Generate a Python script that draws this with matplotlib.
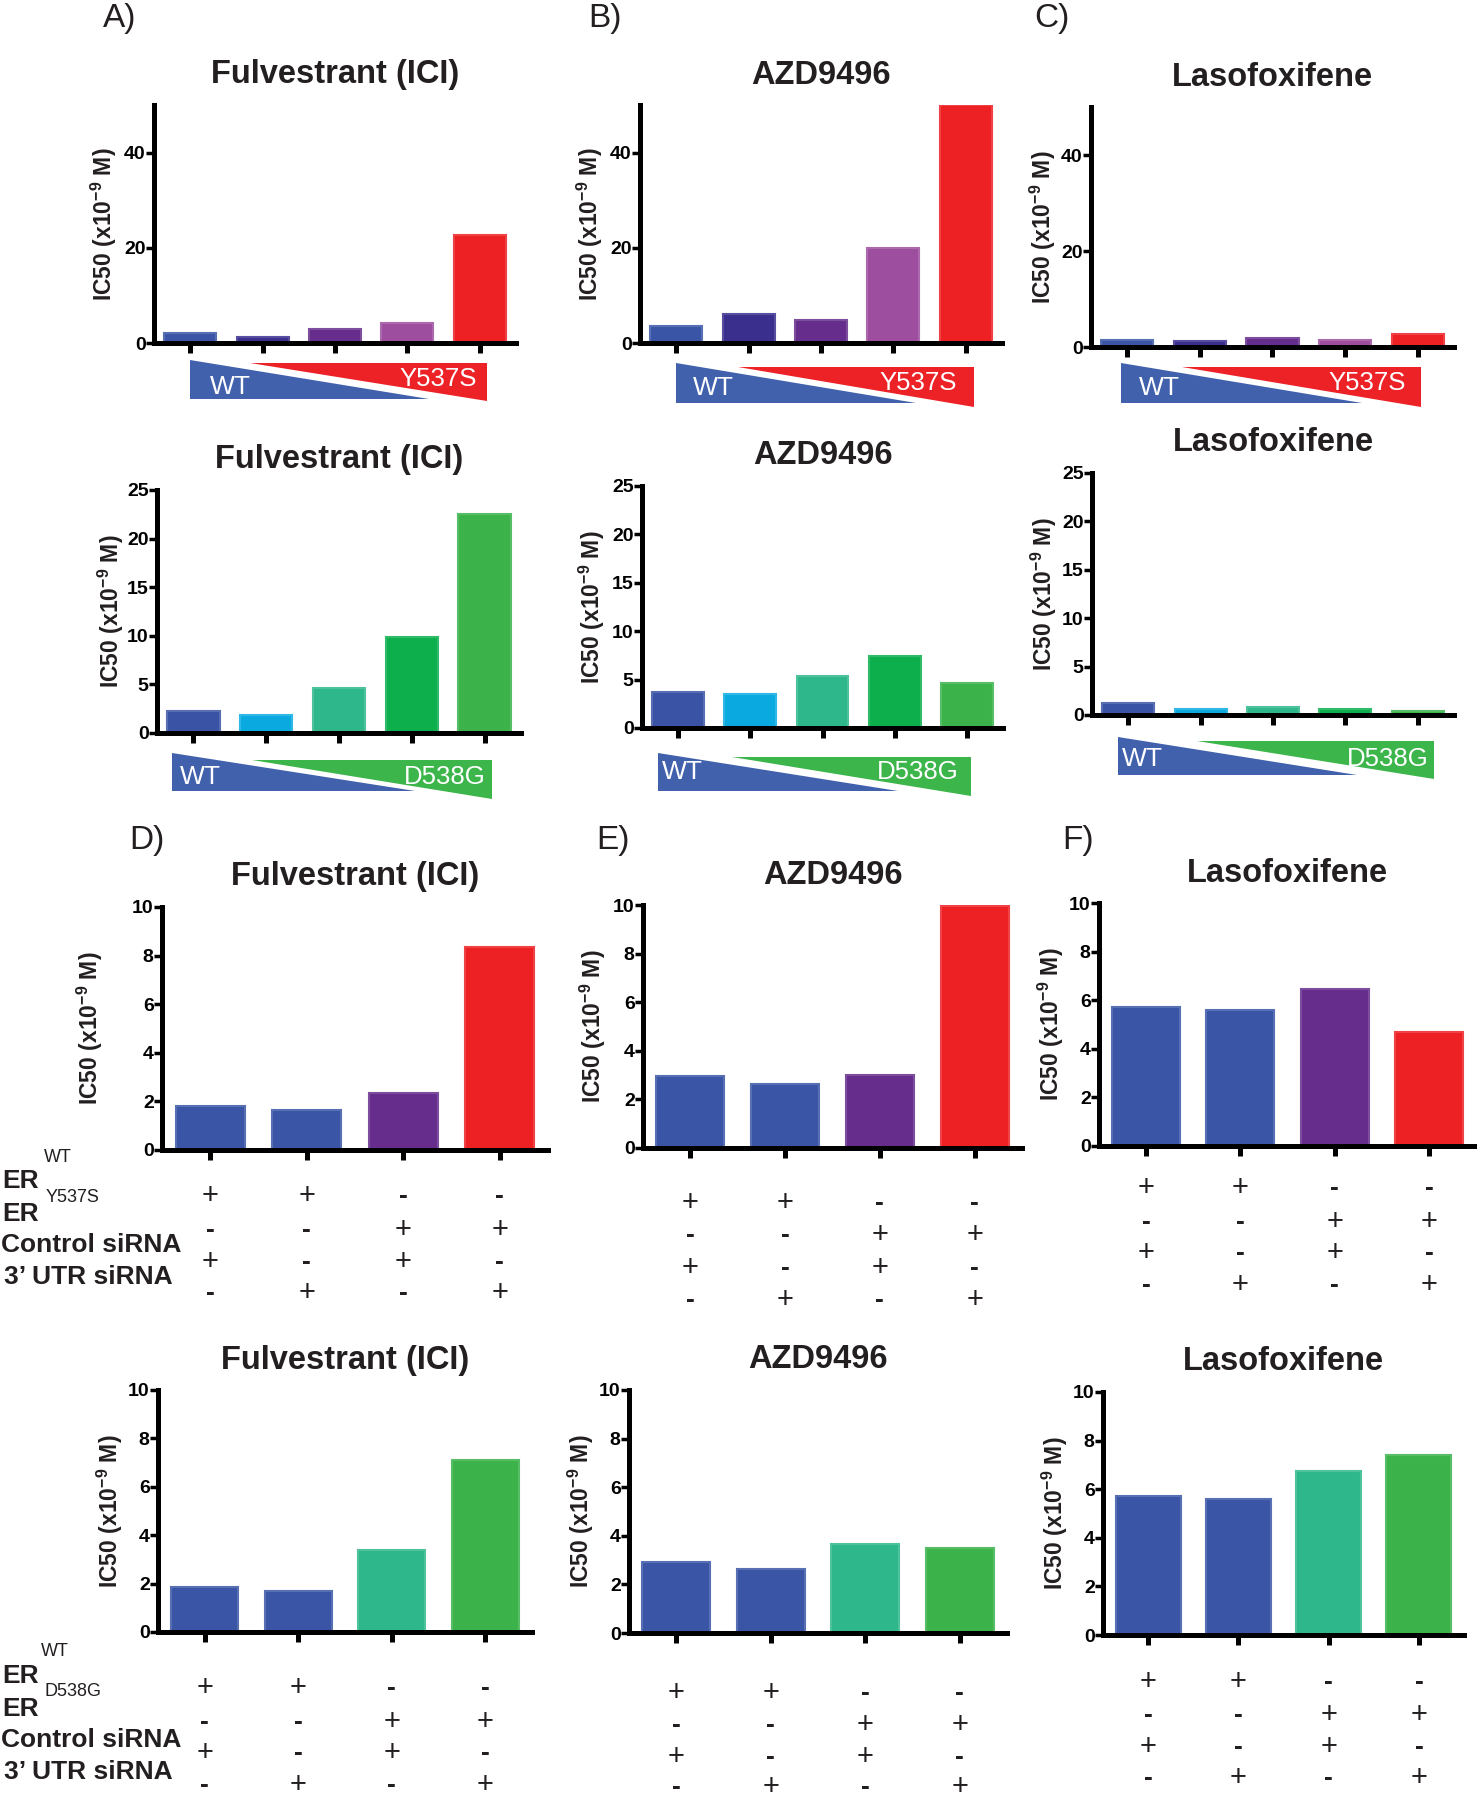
import matplotlib.pyplot as plt
import matplotlib.transforms as mtransforms
from matplotlib.patches import Polygon
from matplotlib.colors import to_rgb

plt.rcParams['font.family'] = ['Liberation Sans', 'DejaVu Sans']
plt.rcParams['mathtext.fontset'] = 'custom'
plt.rcParams['mathtext.rm'] = 'Liberation Sans:bold'
plt.rcParams['mathtext.default'] = 'rm'
plt.rcParams['text.color'] = '#231F20'

# ---- data (IC50, x10^-9 M) ----
ici_y537s = [2.2, 1.3, 2.9, 4.2, 22.6]
azd_y537s = [3.6, 6.1, 4.8, 20.0, 50.0]
laso_y537s = [1.4, 1.2, 1.8, 1.4, 2.8]

ici_d538g = [2.3, 1.9, 4.6, 9.9, 22.5]
azd_d538g = [3.75, 3.5, 5.4, 7.4, 4.6]
laso_d538g = [1.2, 0.6, 0.8, 0.6, 0.4]

ici_sirna_y537s = [1.81, 1.65, 2.36, 8.37]
azd_sirna_y537s = [2.96, 2.65, 3.0, 9.97]
laso_sirna_y537s = [5.73, 5.6, 6.46, 4.69]

ici_sirna_d538g = [1.86, 1.7, 3.4, 7.1]
azd_sirna_d538g = [2.92, 2.63, 3.66, 3.5]
laso_sirna_d538g = [5.72, 5.58, 6.75, 7.4]

er_wt = ['+', '+', '-', '-']
er_mut = ['-', '-', '+', '+']
control_sirna = ['+', '-', '+', '-']
utr_sirna = ['-', '+', '-', '+']
sign_rows = [er_wt, er_mut, control_sirna, utr_sirna]

drugs = ['Fulvestrant (ICI)', 'AZD9496', 'Lasofoxifene']
row_labels = ['Control siRNA', '3\u2019 UTR siRNA']

# colours
y537s_colors = ['#3A55A5', '#3B2F8E', '#662D8D', '#9D4E9E', '#ED2024']
d538g_colors = ['#3A53A4', '#0AAAE0', '#2FB78C', '#0DAF4D', '#3BB34A']
sirna_y_colors = ['#3A55A5', '#3A55A5', '#662D8D', '#ED2024']
sirna_d_colors = ['#3A55A5', '#3A55A5', '#2FB78C', '#3BB34A']
wedge_blue, wedge_red, wedge_green = '#4161AD', '#EC2227', '#3CB54A'

# ---- layout ----
W, H = 1477, 1800
PX = 72 / 100  # points per pixel

fig = plt.figure(figsize=(W / 100, H / 100), dpi=100)


def add_ax(rect):
    l, t, r, b = rect
    return fig.add_axes([l / W, 1 - b / H, (r - l) / W, (b - t) / H])


def lighten(c, f=0.15):
    r, g, b = to_rgb(c)
    return (r + (1 - r) * f, g + (1 - g) * f, b + (1 - b) * f)


def bar_panel(rect, values, colors, title, ymax, ystep, ylab_px=48):
    ax = add_ax(rect)
    wpx = rect[2] - rect[0]
    x = list(range(len(values)))
    ax.bar(x, values, width=0.72, color=colors,
           edgecolor=[lighten(c) for c in colors], linewidth=1.5)
    ax.set_xlim(-0.5, len(values) - 0.5)
    ax.set_ylim(0, ymax)
    ax.set_yticks(range(0, ymax + 1, ystep))
    ax.set_xticks(x)
    ax.set_xticklabels([])
    for s in ['top', 'right']:
        ax.spines[s].set_visible(False)
    for s in ['left', 'bottom']:
        ax.spines[s].set_linewidth(3.6)
    ax.tick_params(axis='y', direction='out', length=6, width=2.5, pad=0,
                   labelsize=14)
    ax.tick_params(axis='x', direction='out', length=7, width=3.6)
    for lab in ax.get_yticklabels():
        lab.set_fontweight('bold')
    ax.text(-ylab_px / wpx, 0.5, 'IC50 (x10$^{-9}$ M)', rotation=90,
            transform=ax.transAxes, ha='center', va='center',
            fontsize=16.5, fontweight='bold')
    ax.annotate(title, xy=(0.5, 1), xycoords='axes fraction',
                xytext=(0, 30 * PX), textcoords='offset points',
                ha='center', va='center', fontsize=23.5, fontweight='bold')
    return ax


def wedge(ax, right_color, right_lab, geo):
    trans = mtransforms.blended_transform_factory(ax.transData, ax.transAxes)
    (bx0, bx1, bt, bb), (rx0, rx1, rt, rb), (wx, wy), (mx, my) = geo
    ax.add_patch(Polygon([(bx0, bt), (bx0, bb), (bx1, bb)], closed=True,
                         facecolor=wedge_blue, edgecolor='none',
                         transform=trans, clip_on=False))
    ax.add_patch(Polygon([(rx0, rt), (rx1, rt), (rx1, rb)], closed=True,
                         facecolor=right_color, edgecolor='none',
                         transform=trans, clip_on=False))
    ax.text(wx, wy, 'WT', color='white', fontsize=19, ha='center',
            va='center', transform=trans)
    ax.text(mx, my, right_lab, color='white', fontsize=18.5, ha='center',
            va='center', transform=trans)


def signs(ax, offsets):
    for row, off in zip(sign_rows, offsets):
        for i, s in enumerate(row):
            ax.annotate(s, xy=(i, 0), xycoords=('data', 'axes fraction'),
                        xytext=(0, -off * PX), textcoords='offset points',
                        ha='center', va='center',
                        fontsize=19 if s == '-' else 21,
                        fontweight='bold' if s == '-' else 'normal',
                        annotation_clip=False)


def ftext(x, y, s, **kw):
    fig.text(x / W, 1 - y / H, s, **kw)


# row 1: Y537S titration
ax = bar_panel((154, 105, 516, 343), ici_y537s, y537s_colors, drugs[0], 50, 20, 50)
wedge(ax, wedge_red, 'Y537S', ((0.0, 3.3, -0.071, -0.235), (0.83, 4.1, -0.085, -0.245),
                               (0.55, -0.185), (3.42, -0.15)))
ax = bar_panel((640, 105, 1002, 343), azd_y537s, y537s_colors, drugs[1], 50, 20, 50)
wedge(ax, wedge_red, 'Y537S', ((0.0, 3.31, -0.084, -0.252), (0.86, 4.12, -0.1, -0.268),
                               (0.51, -0.19), (3.34, -0.168)))
ax = bar_panel((1091, 107, 1454, 347), laso_y537s, y537s_colors, drugs[2], 50, 20, 48)
wedge(ax, wedge_red, 'Y537S', ((-0.08, 3.23, -0.067, -0.233), (0.76, 4.04, -0.083, -0.25),
                               (0.44, -0.171), (3.3, -0.15)))

# row 2: D538G titration
ax = bar_panel((157, 490, 521, 733), ici_d538g, d538g_colors, drugs[0], 25, 5, 46)
wedge(ax, wedge_green, 'D538G', ((-0.29, 3.04, -0.082, -0.239), (0.8, 4.1, -0.112, -0.272),
                                 (0.1, -0.18), (3.45, -0.18)))
ax = bar_panel((642, 486, 1003, 728), azd_d538g, d538g_colors, drugs[1], 25, 5, 50)
wedge(ax, wedge_green, 'D538G', ((-0.28, 3.04, -0.103, -0.26), (0.75, 4.05, -0.12, -0.282),
                                 (0.06, -0.18), (3.32, -0.18)))
ax = bar_panel((1092, 473, 1454, 715), laso_d538g, d538g_colors, drugs[2], 25, 5, 48)
wedge(ax, wedge_green, 'D538G', ((-0.14, 3.16, -0.091, -0.248), (0.95, 4.22, -0.108, -0.266),
                                 (0.19, -0.18), (3.59, -0.18)))

# row 3: siRNA, Y537S
ax = bar_panel((162, 907, 548, 1150), ici_sirna_y537s, sirna_y_colors, drugs[0], 10, 2, 72)
signs(ax, [46, 80, 112, 143])
ax = bar_panel((643, 905, 1022, 1148), azd_sirna_y537s, sirna_y_colors, drugs[1], 10, 2, 50)
signs(ax, [55, 87, 120, 152])
ax = bar_panel((1099, 903, 1476, 1146), laso_sirna_y537s, sirna_y_colors, drugs[2], 10, 2, 48)
signs(ax, [42, 76, 107, 139])

# row 4: siRNA, D538G
ax = bar_panel((158, 1390, 532, 1632), ici_sirna_d538g, sirna_d_colors, drugs[0], 10, 2, 48)
signs(ax, [56, 90, 121, 153])
ax = bar_panel((629, 1390, 1007, 1633), azd_sirna_d538g, sirna_d_colors, drugs[1], 10, 2, 48)
signs(ax, [60, 92, 124, 154])
ax = bar_panel((1103, 1392, 1464, 1635), laso_sirna_d538g, sirna_d_colors, drugs[2], 10, 2, 48)
signs(ax, [47, 80, 112, 143])

# panel letters
for lab, x, y in [('A)', 120, 18), ('B)', 605, 18), ('C)', 1052, 18),
                  ('D)', 147, 840), ('E)', 613, 840), ('F)', 1078, 840)]:
    ftext(x, y, lab, fontsize=24, ha='center', va='center')

# condition labels
for y0, mut, wx, mx in [(1157, 'Y537S', 58, 46), (1652, 'D538G', 55, 44)]:
    ftext(wx, y0, 'WT', fontsize=13, ha='center', va='center')
    ftext(2, y0 + 24, 'ER', fontsize=19, fontweight='bold', ha='left', va='center')
    ftext(mx, y0 + 40, mut, fontsize=13, ha='left', va='center')
    ftext(2, y0 + 57, 'ER', fontsize=19, fontweight='bold', ha='left', va='center')
    ftext(1, y0 + 88, row_labels[0], fontsize=19, fontweight='bold', ha='left', va='center')
    ftext(4, y0 + 120, row_labels[1], fontsize=19, fontweight='bold', ha='left', va='center')

fig.savefig('out.png', dpi=100)
